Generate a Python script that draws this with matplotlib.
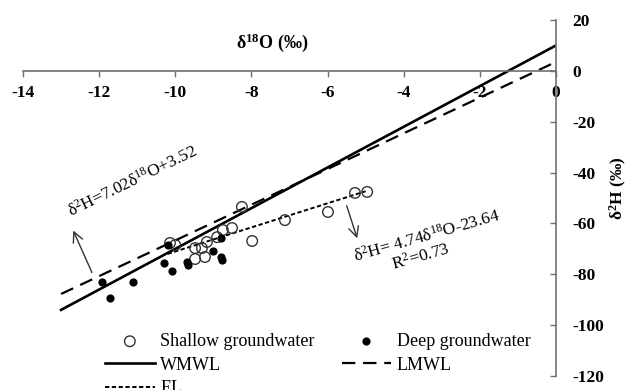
import matplotlib
matplotlib.use("Agg")
import matplotlib.pyplot as plt
import numpy as np

plt.rcParams['font.family'] = ['Liberation Serif', 'DejaVu Serif']
plt.rcParams['mathtext.fontset'] = 'custom'
plt.rcParams['mathtext.rm'] = 'Liberation Serif'
plt.rcParams['mathtext.it'] = 'Liberation Serif:italic'
plt.rcParams['mathtext.bf'] = 'Liberation Serif:bold'

# ---- data ----
shallow_o = [-8.25, -7.98, -7.12, -5.99, -5.28, -4.96, -8.51, -8.75, -8.90,
             -9.48, -9.30, -9.48, -9.22, -10.14, -10.00, -9.17]
shallow_h = [-53.5, -66.9, -58.7, -55.5, -48.0, -47.6, -61.8, -62.6, -65.4,
             -69.7, -69.7, -74.0, -73.2, -67.7, -68.5, -67.3]
deep_o = [-11.93, -11.72, -11.11, -10.30, -10.19, -10.09, -9.70, -9.67,
          -9.00, -8.80, -8.77, -8.80]
deep_h = [-83.0, -89.4, -83.0, -75.6, -68.5, -78.7, -75.2, -76.4,
          -70.9, -73.2, -74.4, -65.7]

wmwl_slope, wmwl_icpt = 8.0, 10.0
lmwl_slope, lmwl_icpt = 7.02, 3.52
el_slope, el_icpt = 4.74, -23.64
mwl_range = [-13.0, 0.0]
el_range = [-10.2, -5.0]

xticks = [-14, -12, -10, -8, -6, -4, -2, 0]
yticks = [-120, -100, -80, -60, -40, -20, 0, 20]

W, H = 629, 390
fig = plt.figure(figsize=(W / 100, H / 100), dpi=100)
ax = fig.add_axes([23 / W, 1 - 376 / H, (556 - 23) / W, (376 - 20) / H])

ax.set_xlim(-14, 0)
ax.set_ylim(-120, 20)

x_m = np.array(mwl_range)
x_e = np.array(el_range)
ax.plot(x_m, wmwl_slope * x_m + wmwl_icpt, color='black', lw=1.9, label='WMWL')
ax.plot(x_m, lmwl_slope * x_m + lmwl_icpt, color='black', lw=1.6,
        linestyle=(0, (6, 3.5)), label='LMWL')
ax.plot(x_e, el_slope * x_e + el_icpt, color='black', lw=1.4,
        linestyle=(0, (2.2, 1.3)), label='EL')

ax.scatter(shallow_o, shallow_h, s=58, facecolors='none', edgecolors='#333333',
           linewidths=1.0, zorder=3, label='Shallow groundwater')
ax.scatter(deep_o, deep_h, s=24, color='black', zorder=3, label='Deep groundwater')

# spines
for s in ['left', 'top']:
    ax.spines[s].set_visible(False)
ax.spines['bottom'].set_position(('data', 0))
ax.spines['bottom'].set_color('#707070')
ax.spines['right'].set_color('#707070')
ax.spines['bottom'].set_linewidth(1.2)
ax.spines['right'].set_linewidth(1.2)
ax.yaxis.tick_right()
ax.set_xticks(xticks)
ax.set_yticks(yticks)
ax.set_xticklabels([str(t) for t in xticks], fontweight='bold')
ax.set_yticklabels([str(t) for t in yticks], fontweight='bold')
ax.tick_params(axis='x', direction='out', length=4, width=1, color='#707070',
               pad=6, labelsize=12.5)
ax.tick_params(axis='y', direction='in', length=4, width=1, color='#707070',
               pad=12, labelsize=12.5)

# axis labels
ax.text(-7.46, 11, r'δ$^{\mathbf{18}}$O (‰)', fontsize=13, fontweight='bold',
        ha='center', va='center')
ax.text(1.64, -46.0, r'δ$^{\mathbf{2}}$H (‰)', fontsize=12.5, fontweight='bold',
        ha='center', va='center', rotation=90, clip_on=False)

# annotations
ax.text(-11.11, -43.3, r'δ$^{2}$H=7.02δ$^{18}$O+3.52', fontsize=12.5,
        rotation=26, ha='center', va='center', rotation_mode='anchor')
ax.annotate('', xy=(-12.71, -61.8), xytext=(-12.16, -80.3),
            arrowprops=dict(arrowstyle='->', color='#333333', lw=1.0,
                            mutation_scale=18))
ax.text(-3.39, -65.0, r'δ$^{2}$H= 4.74δ$^{18}$O-23.64', fontsize=12.5,
        rotation=16, ha='center', va='center', rotation_mode='anchor')
ax.text(-3.55, -73.2, r'R$^{2}$=0.73', fontsize=12.5,
        rotation=16, ha='center', va='center', rotation_mode='anchor')
ax.annotate('', xy=(-5.2, -66.9), xytext=(-5.52, -52.0),
            arrowprops=dict(arrowstyle='->', color='#333333', lw=1.0,
                            mutation_scale=18))

# legend
handles, labels = ax.get_legend_handles_labels()
order = ['Shallow groundwater', 'WMWL', 'EL', 'Deep groundwater', 'LMWL']
hmap = dict(zip(labels, handles))
leg = ax.legend([hmap[k] for k in order], order, ncol=2, frameon=False,
                fontsize=13, loc='upper left',
                bbox_to_anchor=(105 / W, 1 - 333 / H), bbox_transform=fig.transFigure,
                borderpad=0, borderaxespad=0, handlelength=2.75, handletextpad=0.3,
                columnspacing=1.5, labelspacing=0.36)

fig.savefig('out.png', dpi=100)
